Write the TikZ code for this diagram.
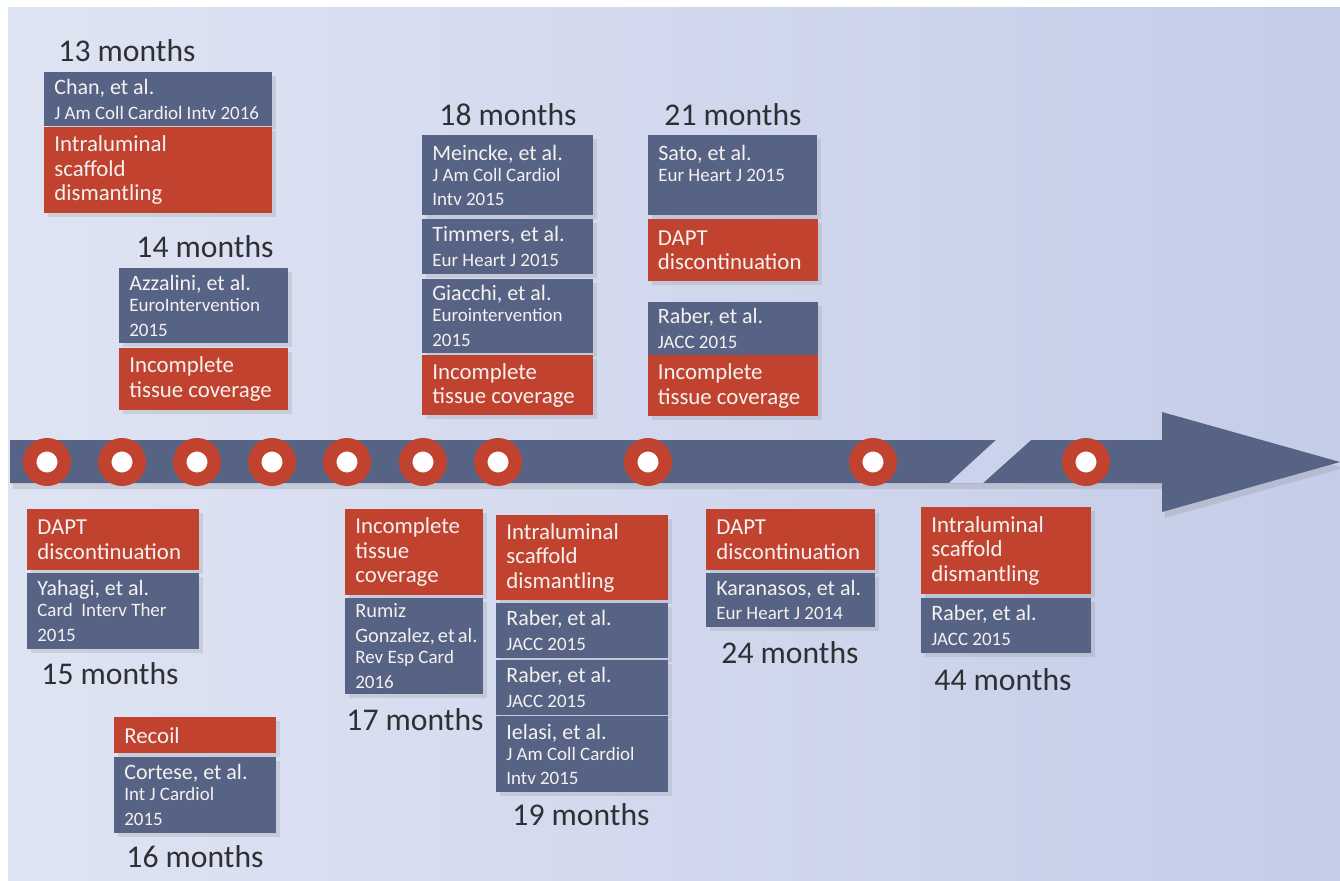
\documentclass[tikz,border=0pt]{standalone}
\usepackage{fontspec}
\setmainfont{Carlito}
\usepackage{tikz}
\usetikzlibrary{positioning,shadows,backgrounds}

\definecolor{slate}{HTML}{576385}
\definecolor{brick}{HTML}{C1432F}
\definecolor{bgleft}{HTML}{DFE4F3}
\definecolor{bgright}{HTML}{C4CDE8}
\definecolor{breakfill}{HTML}{CBD3EC}
\definecolor{boxtext}{HTML}{F4F1EF}
\definecolor{inktext}{HTML}{2F3033}
\definecolor{stemgray}{HTML}{2B2B2B}

% small font for the journal lines
\newcommand{\jrnl}{\fontsize{10.8}{12}\selectfont}

\begin{document}
\begin{tikzpicture}[
    x=0.02cm, y=-0.02cm,
    card/.style={rectangle, anchor=north west, inner xsep=0.2cm, inner ysep=0.06cm, align=flush left, text=boxtext, drop shadow={opacity=0.2, shadow xshift=0.08cm, shadow yshift=-0.08cm}},
    cite/.style={card, fill=slate, font=\fontsize{12.5}{14}\selectfont},
    finding/.style={card, fill=brick, font=\fontsize{13}{14}\selectfont},
    boxw/.style={minimum width=#1*0.02cm, text width=#1*0.02cm-0.4cm},
    boxh/.style={minimum height=#1*0.02cm},
    months/.style={font=\fontsize{18}{20}\selectfont, text=inktext},
    milestone/.style={circle, fill=white, draw=brick, line width=0.27cm, minimum size=0.69cm, inner sep=0pt, drop shadow={opacity=0.15}},
    stemline/.style={draw=stemgray, line width=1.7pt},
    node distance=0.04cm
]
    \useasboundingbox (0,0) rectangle (1340,880);

    % page and soft background
    \fill[white] (0,0) rectangle (1340,880);
    \shade[left color=bgleft, right color=bgright] (8,7) rectangle (1340,880);

    % time axis with arrow head
    \fill[slate, drop shadow={opacity=0.22, shadow xshift=0.06cm, shadow yshift=-0.12cm}]
        (10,440) -- (1162,440) -- (1162,412) -- (1340,462) -- (1162,512) -- (1162,483) -- (10,483) -- cycle;
    % axis break
    \fill[breakfill] (949,483) -- (996,440) -- (1031,440) -- (983,483) -- cycle;

    % milestones on the axis
    \node[milestone] (m13) at (47,462) {};
    \node[milestone] (m14) at (122,462) {};
    \node[milestone] (m15) at (197,462) {};
    \node[milestone] (m16) at (272,462) {};
    \node[milestone] (m17) at (347,462) {};
    \node[milestone] (m18) at (423,462) {};
    \node[milestone] (m19) at (498,462) {};
    \node[milestone] (m21) at (648,462) {};
    \node[milestone] (m24) at (873,462) {};
    \node[milestone] (m44) at (1086,462) {};

    % 13 months
    \node[months] (lbl13) at (127,51) {13 months};
    \node[cite, boxw=228, boxh=54] (chan) at (44,72) {Chan,~et~al.\par\jrnl J Am Coll Cardiol Intv 2016};
    \node[finding, boxw=228, boxh=86, below=0pt of chan] (chanf) {Intraluminal\\scaffold\\dismantling};

    % 14 months
    \node[months] (lbl14) at (205,247) {14 months};
    \node[cite, boxw=169, boxh=75] (azz) at (119,268) {Azzalini,~et~al.\par\jrnl EuroIntervention\\2015};
    \node[finding, boxw=169, boxh=62, below=0.08cm of azz] (azzf) {Incomplete\\tissue~coverage};

    % 15 months
    \node[finding, boxw=172, boxh=61] (yahf) at (27,509) {DAPT\\discontinuation};
    \node[cite, boxw=172, boxh=76, below=0.04cm of yahf] (yah) {Yahagi,~et~al.\par\jrnl Card\ \ Interv Ther\\2015};
    \node[months] (lbl15) at (110,674) {15 months};

    % 16 months
    \node[finding, boxw=162, boxh=36] (recf) at (114,717) {Recoil};
    \node[cite, boxw=162, boxh=76, below=0.06cm of recf] (cort) {Cortese,~et~al.\par\jrnl Int J Cardiol\\2015};
    \node[months] (lbl16) at (195,857) {16 months};

    % 17 months
    \node[finding, boxw=138, boxh=86] (rumf) at (345,509) {Incomplete\\tissue\\coverage};
    \node[cite, boxw=138, boxh=96, below=0.04cm of rumf, font=\fontsize{11.6}{14}\selectfont] (rum) {Rumiz\\Gonzalez,~et~al.\par\jrnl Rev Esp Card\\2016};
    \node[months] (lbl17) at (415,720) {17 months};

    % 18 months
    \node[months] (lbl18) at (508,115) {18 months};
    \node[cite, boxw=171, boxh=80] (mein) at (422,135) {Meincke,~et~al.\par\jrnl J Am Coll Cardiol\\Intv 2015};
    \node[cite, boxw=171, boxh=55, below=0.06cm of mein] (timm) {Timmers,~et~al.\par\jrnl Eur Heart J 2015};
    \node[cite, boxw=171, boxh=74, below=0.08cm of timm] (giac) {Giacchi,~et~al.\par\jrnl Eurointervention\\2015};
    \node[finding, boxw=171, boxh=60, below=0.04cm of giac] (meinf) {Incomplete\\tissue~coverage};

    % 19 months
    \node[finding, boxw=172, boxh=85] (ielf) at (496,515) {Intraluminal\\scaffold\\dismantling};
    \node[cite, boxw=172, boxh=55, below=0.04cm of ielf] (rab19a) {Raber,~et~al.\par\jrnl JACC 2015};
    \node[cite, boxw=172, boxh=55, below=0.02cm of rab19a] (rab19b) {Raber,~et~al.\par\jrnl JACC 2015};
    \node[cite, boxw=172, boxh=76, below=0.02cm of rab19b] (iel) {Ielasi,~et~al.\par\jrnl J Am Coll Cardiol\\Intv 2015};
    \node[months] (lbl19) at (581,815) {19 months};

    % 21 months
    \node[months] (lbl21) at (733,115) {21 months};
    \node[cite, boxw=169, boxh=80] (sato) at (648,135) {Sato,~et~al.\par\jrnl Eur Heart J 2015\par\vspace*{14pt}};
    \node[finding, boxw=170, boxh=62, below=0.06cm of sato] (satof) {DAPT\\discontinuation};
    \node[cite, boxw=170, boxh=53, below=0.4cm of satof] (rab21) {Raber,~et~al.\par\jrnl JACC 2015};
    \node[finding, boxw=170, boxh=61, below=0pt of rab21] (rab21f) {Incomplete\\tissue~coverage};

    % 24 months
    \node[finding, boxw=169, boxh=61] (karf) at (706,509) {DAPT\\discontinuation};
    \node[cite, boxw=169, boxh=54, below=0.04cm of karf] (kar) {Karanasos,~et~al.\par\jrnl Eur Heart J 2014};
    \node[months] (lbl24) at (790,653) {24 months};

    % 44 months
    \node[finding, boxw=170, boxh=87] (rab44f) at (921,507) {Intraluminal\\scaffold\\dismantling};
    \node[cite, boxw=170, boxh=55, below=0.06cm of rab44f] (rab44) {Raber,~et~al.\par\jrnl JACC 2015};
    \node[months] (lbl44) at (1003,680) {44 months};

    % stems from the milestones to their boxes
    \begin{pgfonlayer}{background}
        \draw[stemline] (m13) -- (m13 |- chan.north);
        \draw[stemline] (m14) -- (m14 |- azz.north);
        \draw[stemline] (m15) -- (m15 |- yah.center);
        \draw[stemline] (m16) -- (m16 |- cort.center);
        \draw[stemline] (m17) -- (m17 |- rum.center);
        \draw[stemline] (m18) -- (m18 |- mein.center);
        \draw[stemline] (m19) -- (m19 |- iel.center);
        \draw[stemline] (m21) -- (m21 |- sato.center);
        \draw[stemline] (m24) -- (m24 |- kar.center);
        \draw[stemline] (m44) -- (m44 |- rab44.center);
    \end{pgfonlayer}
\end{tikzpicture}
\end{document}
